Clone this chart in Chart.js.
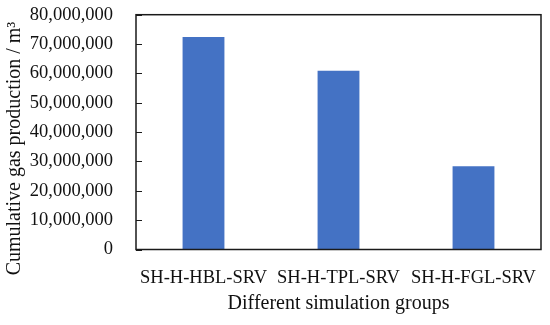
<!DOCTYPE html>
<html>
<head>
<meta charset="utf-8">
<script src="https://cdn.jsdelivr.net/npm/chart.js@4/dist/chart.umd.min.js"></script>
<style>
  html, body { margin: 0; padding: 0; background: #fff; }
  #wrap { width: 550px; height: 325px; }
</style>
</head>
<body>
<div id="wrap"><canvas id="c" width="550" height="325"></canvas></div>
<script>
const categories = ["SH-H-HBL-SRV", "SH-H-TPL-SRV", "SH-H-FGL-SRV"];
const gasProduction = [72400000, 60900000, 28400000];
const yTitle = "Cumulative gas production / m\u00B3";
const xTitle = "Different simulation groups";

const FONT = "'Liberation Serif', 'Times New Roman', serif";

const framePlugin = {
  id: 'frame',
  afterDatasetsDraw(chart) {
    const { ctx, chartArea: a, scales: { y } } = chart;
    ctx.save();
    ctx.strokeStyle = '#1a1a1a';
    ctx.lineWidth = 1.5;
    ctx.strokeRect(a.left, a.top, a.right - a.left, a.bottom - a.top);
    ctx.lineWidth = 1;
    y.ticks.forEach(t => {
      const py = Math.round(y.getPixelForValue(t.value)) + 0.5;
      ctx.beginPath();
      ctx.moveTo(a.left, py);
      ctx.lineTo(a.left + 6, py);
      ctx.stroke();
    });
    // y-axis title
    ctx.fillStyle = '#111';
    ctx.font = "20px " + FONT;
    ctx.textAlign = 'center';
    ctx.textBaseline = 'middle';
    ctx.translate(15, 148.5);
    ctx.rotate(-Math.PI / 2);
    ctx.fillText(yTitle, 0, 0);
    ctx.restore();
  }
};

new Chart(document.getElementById('c'), {
  type: 'bar',
  data: {
    labels: categories,
    datasets: [{
      data: gasProduction,
      backgroundColor: '#4472C4',
      barPercentage: 0.31,
      categoryPercentage: 1.0
    }]
  },
  options: {
    responsive: false,
    animation: false,
    layout: { padding: { left: 0, right: 9, top: 14.7, bottom: 0 } },
    plugins: { legend: { display: false }, tooltip: { enabled: false } },
    scales: {
      x: {
        grid: { display: false, drawTicks: false },
        border: { display: false },
        ticks: { color: '#111', font: { family: FONT, size: 18.5 }, padding: 18, maxRotation: 0, autoSkip: false },
        title: { display: true, text: xTitle, color: '#111', font: { family: FONT, size: 20 }, padding: { top: 4, bottom: 9.5 } },
        afterFit: s => { s.height = 75.5; s.paddingLeft = 0; s.paddingRight = 0; }
      },
      y: {
        min: 0, max: 80000000,
        grid: { display: false, drawTicks: false },
        border: { display: false },
        ticks: {
          stepSize: 10000000,
          color: '#111',
          font: { family: FONT, size: 18.5 },
          padding: 23,
          callback: v => Number(v).toLocaleString('en-US')
        },
        title: { display: false },
        afterFit: s => { s.width = 136; s.paddingTop = 0; s.paddingBottom = 0; }
      }
    }
  },
  plugins: [framePlugin]
});
</script>
</body>
</html>
